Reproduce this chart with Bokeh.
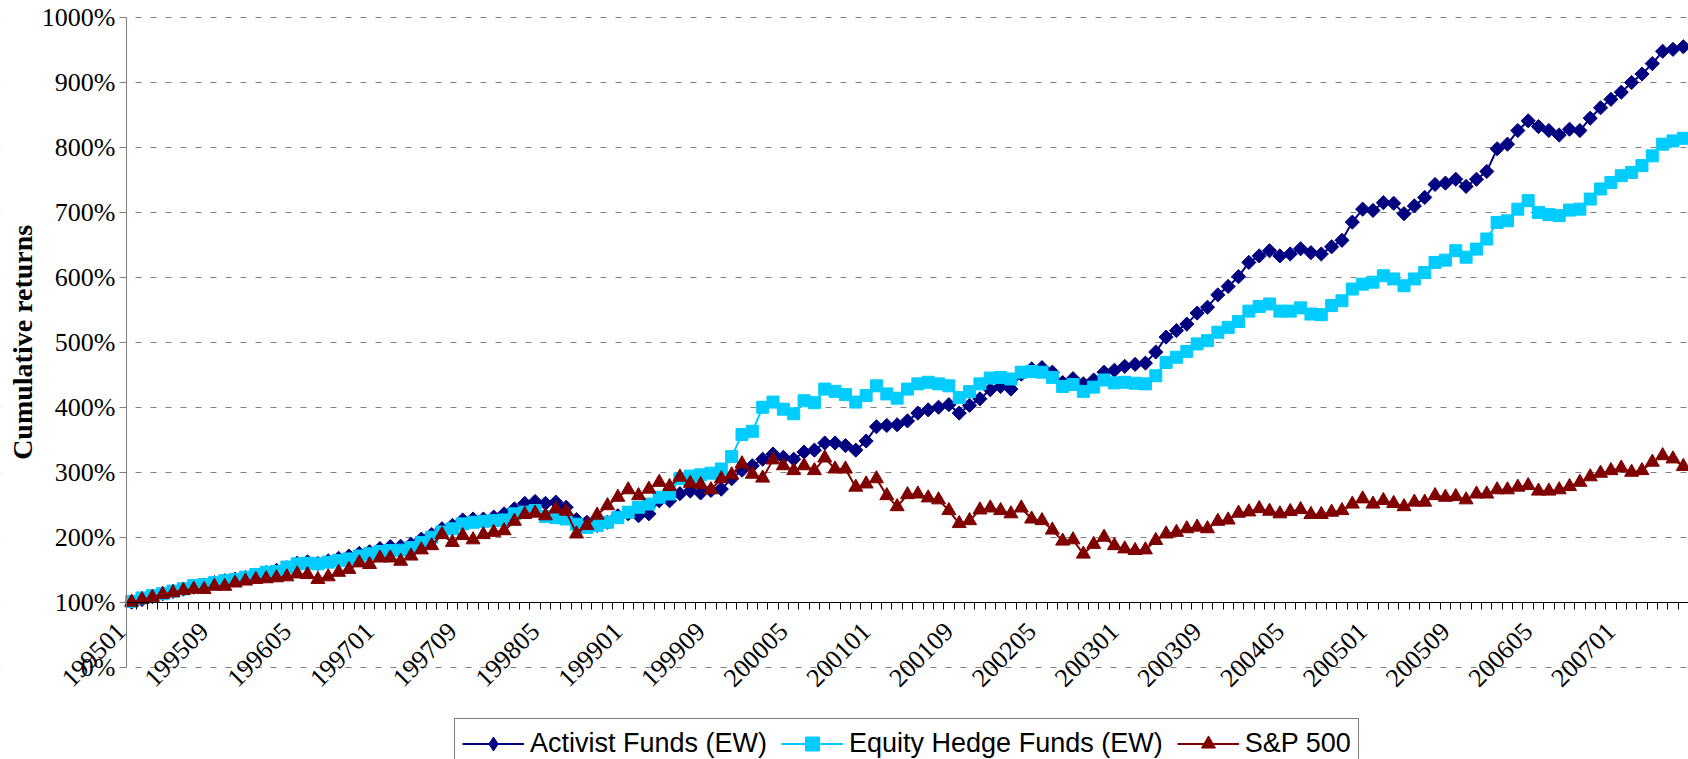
import math
from bokeh.plotting import figure
from bokeh.models import (FixedTicker, PrintfTickFormatter, Legend, LegendItem, Range1d,
                          BoxAnnotation, Label)
from bokeh.embed import file_html
from bokeh.resources import INLINE

# Monthly categories 199501 .. 200707
months = [f"{y}{m:02d}" for y in range(1995, 2008) for m in range(1, 13)][:151]
label_every = 8

series_names = ["Activist Funds (EW)", "Equity Hedge Funds (EW)", "S&P 500"]
y_title = "Cumulative returns"

activist = [100, 104, 108.5, 113, 116.5, 120, 123, 126.5, 130, 133,
            135.5, 138, 141.5, 145.5, 149, 153, 160, 162, 159.5, 163.5,
            167.5, 171, 175, 177.5, 182.5, 185.5, 186, 189, 197, 204,
            213, 218, 226.5, 228, 228, 231, 236, 243.5, 252, 255,
            252, 254, 246, 227, 223, 218, 223, 233, 236, 233,
            236, 256, 256, 267, 271, 268, 272, 274, 290, 303,
            310, 320, 328, 323, 320, 331, 334, 345, 345, 341,
            334, 348, 370, 372, 373, 379, 391, 396, 400, 404,
            391, 403, 413, 427, 432, 428, 451, 459, 461, 454,
            438, 444, 436, 442, 454, 457, 463, 466, 468, 485,
            508, 518, 528, 545, 554, 573, 586, 601, 623, 633,
            641, 633, 636, 644, 638, 636, 647, 657, 685, 705,
            703, 715, 714, 698, 710, 723, 743, 745, 751, 740,
            751, 763, 798, 805, 826, 841, 832, 826, 819, 828,
            826, 845, 861, 874, 885, 900, 913, 929, 948, 951,
            955]

equity = [101, 106.5, 110, 113, 117, 120.5, 125.5, 127, 130, 133,
          135, 138.5, 142.5, 146, 147, 154, 159, 160, 159, 161.5,
          164, 166.5, 171, 174.5, 178, 179.5, 180, 184, 192, 200,
          208, 213, 220.5, 223, 224.5, 225.5, 226.5, 236, 238.5, 241,
          232, 230, 228, 220, 215, 218, 223, 230, 238.5, 246,
          251, 261.5, 266.5, 290, 294, 296, 298.5, 305, 324, 358,
          363, 400, 408, 397, 390, 410, 407, 428, 424.5, 419.5,
          408, 418, 433, 420.5, 414, 428, 436, 438.5, 436, 433,
          415, 424, 436, 445, 446, 443.5, 454, 455, 454, 446,
          432, 435, 424.5, 431, 442, 437.5, 438.5, 437, 436, 448.5,
          469, 477, 486, 497.5, 502.5, 515.5, 523, 532, 548, 555,
          559, 548, 548, 553, 543.5, 542.5, 556.5, 564, 582, 589.5,
          592.5, 602.5, 597.5, 587, 597.5, 607.5, 623, 626.5, 641, 631,
          643.5, 659, 684.5, 687, 705, 718, 700, 696.5, 695, 703.5,
          705, 720.5, 736, 746, 756.5, 761.5, 772, 787, 805, 810,
          814]

sp500 = [100, 104, 107.5, 112, 114.5, 118, 120, 119.5, 124.5, 124.5,
         129.5, 132.5, 135, 136, 137.5, 139, 143.5, 142.5, 135, 139,
         146, 150.5, 160.5, 158, 168, 168, 163, 171, 180.5, 187,
         204, 192, 202.5, 196, 204, 207.5, 210, 224.5, 235, 237,
         233, 243.5, 240, 205, 218, 234, 248.5, 261.5, 273, 264,
         274, 284.5, 278, 292.5, 283, 281, 273, 290, 296, 313,
         297, 291, 319, 310, 302.5, 310, 302.5, 322, 305, 305,
         277, 282, 290, 264, 247, 265.5, 266.5, 260.5, 257.5, 241,
         221, 225.5, 242, 245, 241, 236, 245, 228, 225.5, 211,
         194, 196, 174, 189, 200, 187, 182, 179.5, 180.5, 195,
         205, 207.5, 213, 215.5, 213, 224.5, 226.5, 237, 239, 244,
         240, 236, 239.5, 242.5, 235, 235, 238.5, 241, 251, 259,
         251, 256.5, 252, 247, 254, 254, 264, 261.5, 262.5, 257.5,
         266.5, 266.5, 273, 273, 277, 279.5, 271, 271, 273, 278,
         284.5, 293, 298.5, 302.5, 306.5, 300, 302.5, 315.5, 325.5, 320.5,
         309]

y_ticks = list(range(0, 1001, 100))
x = list(range(len(months)))

# ---- layout (pixels) ----
W, H = 1688, 759
axis_left_px = 126          # where the value axis sits
top_px = 17                 # 1000% line
px_per_pct = 0.6496         # vertical scale
n = len(months)
px_per_cat = (W - axis_left_px) / n
cat_lo = -0.5
x_start = cat_lo - axis_left_px / px_per_cat
y_end = 1000 + top_px / px_per_pct
y_start = 1000 - (H - top_px) / px_per_pct

# The frame covers the whole canvas so that axis labels drawn at fixed
# locations (and the legend, cut off at the bottom as in the original) are not clipped.
p = figure(width=W, height=H, output_backend="svg", toolbar_location=None,
           x_range=Range1d(x_start, n - 0.5), y_range=Range1d(y_start, y_end),
           min_border_left=0, min_border_right=0, min_border_top=0, min_border_bottom=0)
p.outline_line_color = None
p.background_fill_color = "white"
p.border_fill_color = "white"

# grid (hidden left of the value axis by a white box)
p.xgrid.grid_line_color = None
p.ygrid.grid_line_color = "#808080"
p.ygrid.grid_line_dash = "6 9"
p.ygrid.grid_line_width = 1
p.add_layout(BoxAnnotation(right=cat_lo, fill_color="white", fill_alpha=1.0,
                           line_color=None, level="underlay"))

# y axis
ya = p.yaxis[0]
ya.fixed_location = cat_lo
ya.bounds = (0, 1000)
ya.ticker = FixedTicker(ticks=y_ticks)
ya.formatter = PrintfTickFormatter(format="%d%%")
ya.axis_line_color = "#808080"
ya.major_tick_line_color = "#808080"
ya.major_tick_out = 7
ya.major_tick_in = 0
ya.minor_tick_line_color = None
ya.major_label_text_font = "Liberation Serif"
ya.major_label_text_font_size = "26px"
ya.major_label_text_color = "black"
ya.major_label_standoff = 4

p.add_layout(Label(x=x_start + 21.5 / px_per_cat, y=500, text=y_title, angle=math.pi / 2,
                   text_align="center", text_baseline="middle",
                   text_font="Liberation Serif", text_font_style="bold",
                   text_font_size="28px", text_color="black"))

# x axis crossing at 100%
label_shift = 1.0
xa = p.xaxis[0]
xa.fixed_location = 100
xa.bounds = (cat_lo, n - 0.5)
label_ticks = list(range(0, n, label_every))
tick_pos = [i - label_shift for i in label_ticks]
xa.ticker = FixedTicker(ticks=tick_pos,
                        minor_ticks=[i - 0.5 for i in range(n + 1)])
xa.major_label_overrides = {t: months[i] for t, i in zip(tick_pos, label_ticks)}
xa.major_label_orientation = math.pi / 4
xa.major_tick_out = 0
xa.major_tick_in = 0
xa.minor_tick_out = 7
xa.minor_tick_in = 0
xa.minor_tick_line_color = "black"
xa.axis_line_color = "black"
xa.major_label_text_font = "Liberation Serif"
xa.major_label_text_font_size = "26px"
xa.major_label_text_color = "black"
xa.major_label_standoff = 18

# series
navy, cyan, maroon = "#000080", "#00CCFF", "#800000"
l1 = p.line(x, activist, line_color=navy, line_width=2)
s1 = p.scatter(x, activist, marker="square", angle=math.pi / 4, size=10,
               fill_color=navy, line_color=navy)
l2 = p.line(x, equity, line_color=cyan, line_width=2)
s2 = p.scatter(x, equity, marker="square", size=12,
               fill_color=cyan, line_color=cyan)
l3 = p.line(x, sp500, line_color=maroon, line_width=2)
s3 = p.scatter(x, sp500, marker="triangle", size=14,
               fill_color=maroon, line_color=maroon)
# legend swatch for the diamond marker (legend swatches are drawn unrotated);
# hidden in the plot itself, it only supplies the legend's diamond
k1 = p.scatter(x[:1], activist[:1], marker="diamond", size=10,
               fill_color=navy, line_color=navy, visible=False)

legend = Legend(items=[LegendItem(label=series_names[0], renderers=[l1, k1]),
                       LegendItem(label=series_names[1], renderers=[l2, s2]),
                       LegendItem(label=series_names[2], renderers=[l3, s3])],
                orientation="horizontal", location=(454, -10),
                label_text_font="Liberation Sans", label_text_font_size="27px",
                label_text_color="black",
                glyph_width=62, glyph_height=35, label_standoff=6, spacing=14,
                padding=7, margin=0,
                border_line_color="black", border_line_width=1,
                background_fill_color="white", background_fill_alpha=1.0,
                inactive_fill_alpha=0.0)
p.add_layout(legend)

open("out.html", "w").write(file_html(p, INLINE))
